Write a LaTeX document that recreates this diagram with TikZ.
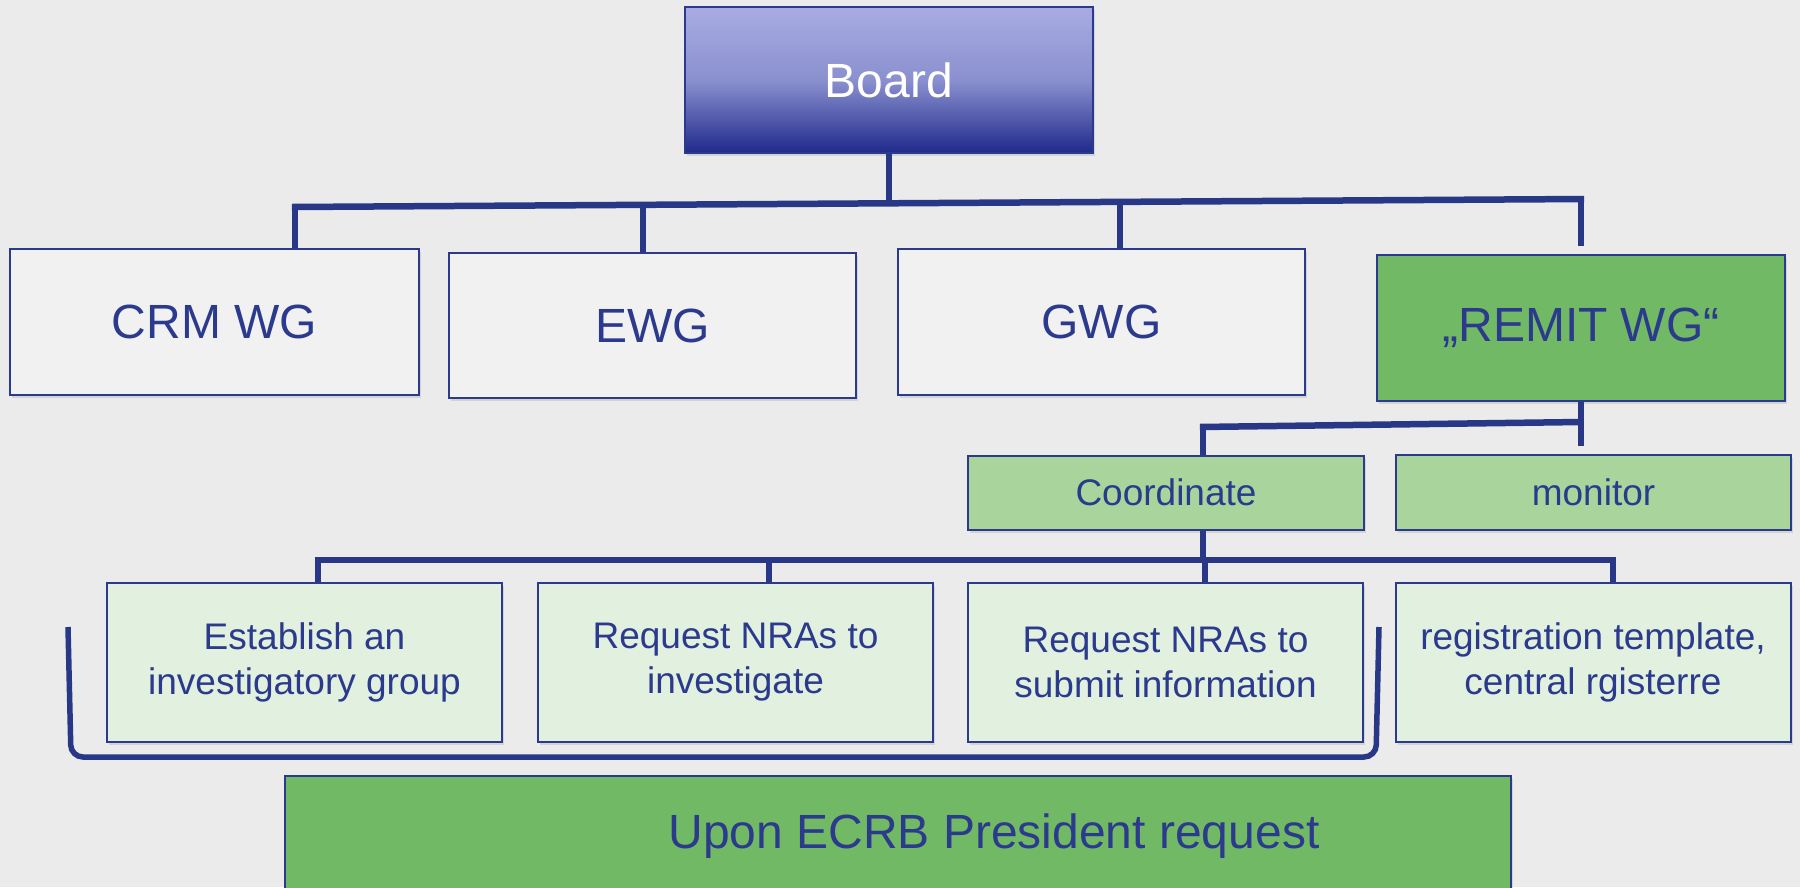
\documentclass[tikz,border=0pt]{standalone}
\usepackage{fontspec}
\setmainfont{Liberation Sans}
\usetikzlibrary{shadows}
\definecolor{bg}{HTML}{EBEBEB}
\definecolor{navy}{HTML}{2B3A8C}
\definecolor{linec}{HTML}{283886}
\definecolor{greyfill}{HTML}{F1F1F1}
\definecolor{remitg}{HTML}{71B964}
\definecolor{lightg}{HTML}{A9D59D}
\definecolor{paleg}{HTML}{E2F0E0}
\definecolor{btop}{HTML}{A9ACE3}
\definecolor{bmid}{HTML}{8A90CF}
\definecolor{bbot}{HTML}{1F2A8B}
\begin{document}
\begin{tikzpicture}[x=1pt,y=-1pt,
  box/.style={draw=navy, line width=2pt, rectangle, inner sep=0pt, text=navy, align=center,
    drop shadow={shadow xshift=2pt,shadow yshift=-3pt,opacity=0.22}},
  bigtxt/.style={font=\fontsize{48}{56}\selectfont},
  midtxt/.style={font=\fontsize{37}{45}\selectfont},
  lvlone/.style={box, bigtxt, minimum width=407pt, minimum height=146pt},
  lvltwo/.style={box, midtxt, fill=lightg, minimum height=74pt},
  lvlthree/.style={box, midtxt, fill=paleg, minimum width=395pt, minimum height=159pt},
  conn/.style={draw=linec, line width=6.5pt}]
\fill[bg] (0,0) rectangle (1800,887);
\useasboundingbox (0,0) rectangle (1800,887);

% nodes
\node[box, bigtxt, text=white, top color=btop, bottom color=bbot, middle color=bmid,
  minimum width=408pt, minimum height=146pt] (board) at (889,80) {Board};
\node[lvlone, fill=greyfill, minimum width=409pt] (crm) at (214.5,321.5) {CRM WG};
\node[lvlone, fill=greyfill, minimum height=145pt] (ewg) at (652.5,325.5) {EWG};
\node[lvlone, fill=greyfill] (gwg) at (1101.5,321.5) {GWG};
\node[lvlone, fill=remitg, minimum width=408pt] (remit) at (1581,328) {„REMIT WG“};
\node[lvltwo, minimum width=396pt] (coord) at (1166,492.5) {Coordinate};
\node[lvltwo, minimum width=395pt, minimum height=75pt] (monitor) at (1593.5,492.5) {monitor};
\node[lvlthree] (estab) at (304.5,662.5) {Establish an\\investigatory group};
\node[lvlthree] (invest) at (735.5,662.5) {Request NRAs to\\investigate};
\node[lvlthree] (submit) at (1165.5,662.5) {Request NRAs to\\submit information};
\node[lvlthree] (regis) at (1593,662.5) {registration template,\\central rgisterre};
\node[box, fill=remitg, minimum width=1226pt, minimum height=124pt] (upon) at (898,838) {};
\node[bigtxt, text=navy, inner sep=0pt] (upontxt) at (994,836) {Upon ECRB President request};

% level 1 connectors
\coordinate (b0) at (889,203.3);
\coordinate (b1) at (295,207);
\coordinate (b2) at (643,204.8);
\coordinate (b3) at (1120,201.9);
\coordinate (b4) at (1581,199);
\draw[conn] (board.south) -- (b0);
\draw[conn] ([xshift=-3.2pt]b1) -- ([xshift=3.2pt]b4);
\draw[conn] (b1) -- (b1 |- crm.north);
\draw[conn] (b2) -- (b2 |- ewg.north);
\draw[conn] (b3) -- (b3 |- gwg.north);
\coordinate (r4) at (1581,246);
\draw[conn] (b4) -- (r4);

% level 2 connectors
\coordinate (m0) at (1581,446);
\coordinate (m1) at (1581,422);
\coordinate (m2) at (1203,427);
\draw[conn] (remit.south) -- (m0);
\draw[conn] (m1) -- ([xshift=-3.2pt]m2);
\draw[conn] (m2) -- (m2 |- coord.north);

% level 3 connectors
\coordinate (c0) at (1203,560);
\coordinate (c1) at (318,560);
\coordinate (c2) at (769,560);
\coordinate (c3) at (1205,560);
\coordinate (c4) at (1613,560);
\draw[conn] (c0 |- coord.south) -- (c0);
\draw[conn] ([xshift=-3.2pt]c1) -- ([xshift=3.2pt]c4);
\draw[conn] (c1) -- (c1 |- estab.north);
\draw[conn] (c2) -- (c2 |- invest.north);
\draw[conn] (c3) -- (c3 |- submit.north);
\draw[conn] (c4) -- (c4 |- regis.north);

% bracket
\coordinate (brL) at (68,627);
\coordinate (brR) at (1379,627);
\draw[conn, line width=5.5pt, rounded corners=12pt] (brL) -- (71,757) -- (1376,757) -- (brR);
\end{tikzpicture}
\end{document}
